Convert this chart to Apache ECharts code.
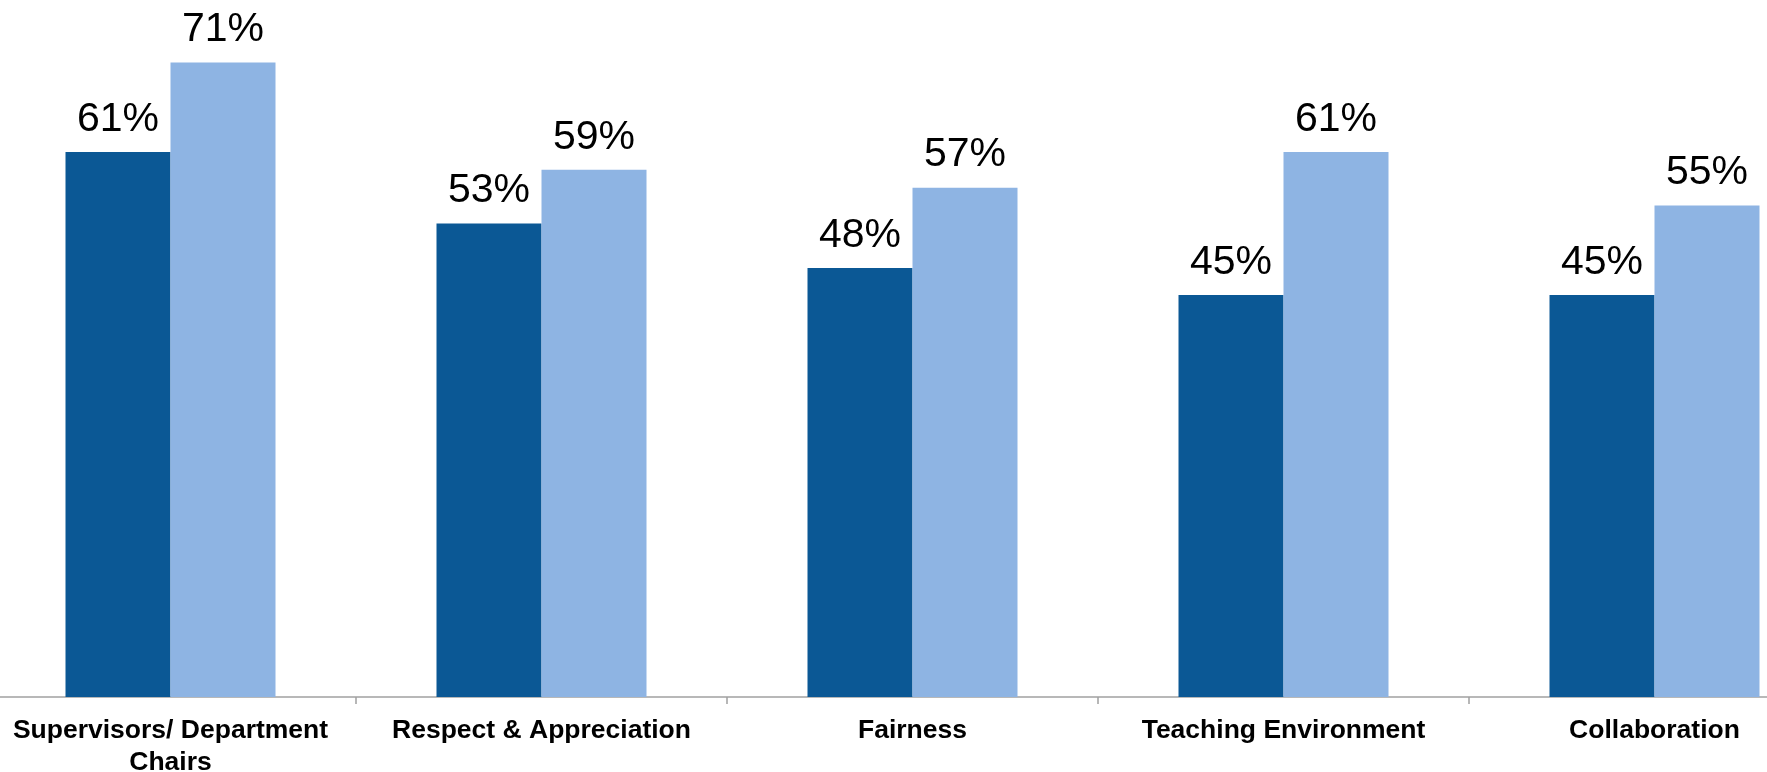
<!DOCTYPE html>
<html>
<head>
<meta charset="utf-8">
<style>
  html, body { margin: 0; padding: 0; background: #ffffff; overflow: hidden; width: 1767px; height: 772px; }
  /* The plot runs a little past both page edges, so the first and last
     category slots are partly cut off. */
  #chart { position: absolute; left: -15px; top: 0; width: 1855px; height: 772px; }
</style>
<script src="https://cdn.jsdelivr.net/npm/echarts@6/dist/echarts.min.js"></script>
</head>
<body>
<div id="chart"></div>
<script>
// Categories along the x axis
const categories = [
  'Supervisors/ Department\nChairs',
  'Respect & Appreciation',
  'Fairness',
  'Teaching Environment',
  'Collaboration'
];

// Percent values for the two bar series
const darkValues = [61, 53, 48, 45, 45];
const lightValues = [71, 59, 57, 61, 55];

const chart = echarts.init(document.getElementById('chart'));

const valueLabel = {
  show: true,
  position: 'top',
  distance: 12,
  formatter: '{c}%',
  color: '#000000',
  fontFamily: 'Liberation Sans, Arial, sans-serif',
  fontSize: 41
};

chart.setOption({
  animation: false,
  backgroundColor: '#ffffff',
  grid: { left: 0, right: 0, top: 0, bottom: 75, containLabel: false, outerBoundsMode: 'none' },
  xAxis: {
    type: 'category',
    data: categories,
    axisLine: { show: true, lineStyle: { color: '#a0a0a0', width: 1.5 } },
    axisTick: { show: true, length: 7, lineStyle: { color: '#a0a0a0', width: 1.5 } },
    axisLabel: {
      color: '#000000',
      fontFamily: 'Liberation Sans, Arial, sans-serif',
      fontWeight: 'bold',
      fontSize: 26.5,
      lineHeight: 32,
      margin: 18,
      interval: 0
    }
  },
  yAxis: {
    type: 'value',
    min: 0,
    max: 78,
    show: false,
    splitLine: { show: false }
  },
  series: [
    {
      name: 'Dark',
      type: 'bar',
      data: darkValues,
      barWidth: 105,
      barGap: '0%',
      itemStyle: { color: '#0b5895' },
      label: valueLabel
    },
    {
      name: 'Light',
      type: 'bar',
      data: lightValues,
      barWidth: 105,
      barGap: '0%',
      itemStyle: { color: '#8eb4e3' },
      label: valueLabel
    }
  ]
});
</script>
</body>
</html>
